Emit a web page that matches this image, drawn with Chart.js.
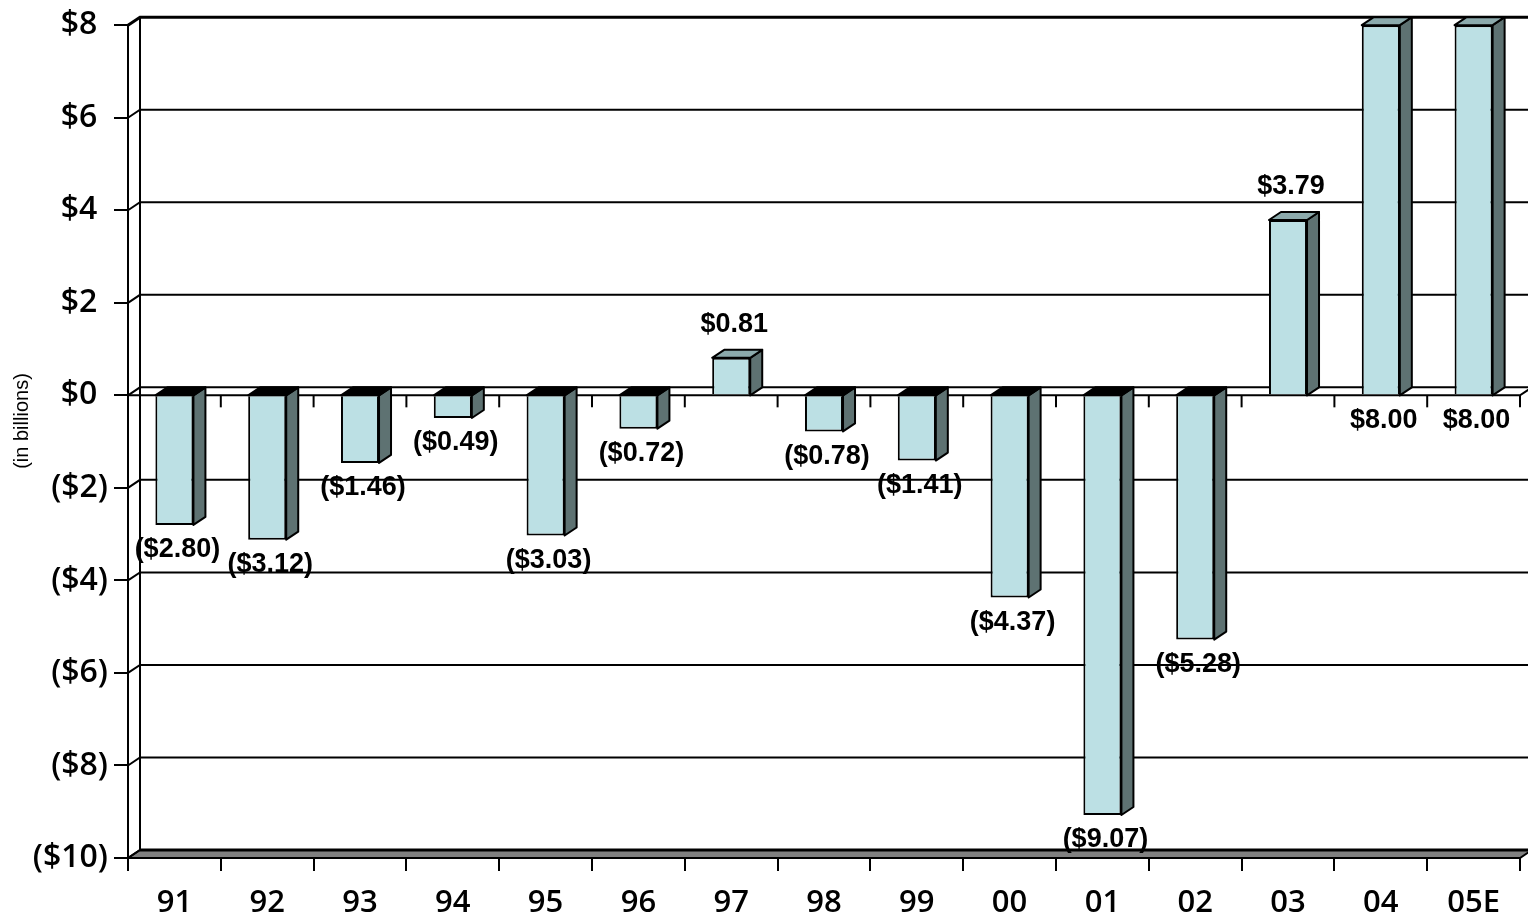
<!DOCTYPE html>
<html>
<head>
<meta charset="utf-8">
<script src="https://cdn.jsdelivr.net/npm/chart.js@4.4.0/dist/chart.umd.min.js"></script>
<style>
  html, body { margin: 0; padding: 0; background: #fff; }
  canvas { display: block; }
</style>
</head>
<body>
<canvas id="chart" width="1528" height="919"></canvas>
<script>
// values (billions of dollars)
const years = ["91", "92", "93", "94", "95", "96", "97", "98", "99", "00", "01", "02", "03", "04", "05E"];
const netIncome = [-2.80, -3.12, -1.46, -0.49, -3.03, -0.72, 0.81, -0.78, -1.41, -4.37, -9.07, -5.28, 3.79, 8.00, 8.00];
const axisMin = -10;
const axisMax = 8;
const axisStep = 2;
const axisTitle = "(in billions)";

// 3d look
const DX = 12;
const DY = -8;
const frontColor = "#bce0e4";
const sideColor = "#5e7272";
const topColor = "#8caaac";
const tickFont = "'Open Sans', 'Noto Sans', sans-serif";

function money(v) {
  const s = "$" + Math.abs(v).toFixed(2);
  return v < 0 ? "(" + s + ")" : s;
}

function poly(ctx, pts) {
  ctx.beginPath();
  ctx.moveTo(pts[0][0], pts[0][1]);
  for (let i = 1; i < pts.length; i++) ctx.lineTo(pts[i][0], pts[i][1]);
  ctx.closePath();
  ctx.fill();
  ctx.stroke();
}

const wallPlugin = {
  id: "walls",
  beforeDatasetsDraw(chart) {
    const { ctx, chartArea: a, scales: { x, y } } = chart;
    ctx.save();
    ctx.strokeStyle = "#000";
    ctx.lineJoin = "miter";

    // floor at the bottom
    const yb = y.getPixelForValue(axisMin);
    ctx.fillStyle = "#808080";
    ctx.lineWidth = 2;
    poly(ctx, [[a.left, yb], [a.right, yb], [a.right + DX, yb + DY], [a.left + DX, yb + DY]]);
    ctx.lineWidth = 3;
    ctx.beginPath();
    ctx.moveTo(a.left + DX, yb + DY);
    ctx.lineTo(a.right + DX, yb + DY);
    ctx.stroke();

    // back wall grid lines
    for (let v = axisMin + axisStep; v <= axisMax; v += axisStep) {
      const py = y.getPixelForValue(v);
      ctx.lineWidth = v === axisMax ? 3 : 2;
      ctx.beginPath();
      ctx.moveTo(a.left, py);
      ctx.lineTo(a.left + DX, py + DY);
      ctx.lineTo(a.right + DX, py + DY);
      ctx.stroke();
    }
    ctx.lineWidth = 2;
    ctx.beginPath();
    ctx.moveTo(a.left, yb);
    ctx.lineTo(a.left + DX, yb + DY);
    ctx.stroke();

    // back edge of the left wall
    ctx.beginPath();
    ctx.moveTo(a.left + DX, y.getPixelForValue(axisMax) + DY);
    ctx.lineTo(a.left + DX, yb + DY);
    ctx.stroke();

    // zero plane with its ticks
    const y0 = y.getPixelForValue(0);
    ctx.beginPath();
    ctx.moveTo(a.left, y0);
    ctx.lineTo(a.right, y0);
    ctx.lineTo(a.right + DX, y0 + DY);
    ctx.stroke();
    const step = x.getPixelForValue(1) - x.getPixelForValue(0);
    const first = x.getPixelForValue(0) - step / 2;
    for (let i = 0; i <= years.length; i++) {
      const px = first + i * step;
      ctx.beginPath();
      ctx.moveTo(px, y0);
      ctx.lineTo(px, y0 + 12);
      ctx.stroke();
    }

    // axis title
    ctx.fillStyle = "#000";
    ctx.font = "20px 'Liberation Sans', Arial, sans-serif";
    ctx.textAlign = "center";
    ctx.textBaseline = "middle";
    ctx.translate(22, 421);
    ctx.rotate(-Math.PI / 2);
    ctx.fillText(axisTitle, 0, 0);
    ctx.restore();
  }
};

const depthPlugin = {
  id: "depth",
  afterDatasetsDraw(chart) {
    const { ctx, scales: { y } } = chart;
    const y0 = y.getPixelForValue(0);
    ctx.save();
    ctx.strokeStyle = "#000";
    ctx.lineWidth = 2;
    ctx.lineJoin = "round";
    chart.getDatasetMeta(0).data.forEach((bar, i) => {
      const p = bar.getProps(["x", "y", "width"], true);
      const l = p.x - p.width / 2;
      const r = p.x + p.width / 2;
      const top = Math.min(p.y, y0);
      const bot = Math.max(p.y, y0);
      ctx.fillStyle = sideColor;
      poly(ctx, [[r, top], [r + DX, top + DY], [r + DX, bot + DY], [r, bot]]);
      ctx.fillStyle = netIncome[i] < 0 ? "#000" : topColor;
      poly(ctx, [[l, top], [l + DX, top + DY], [r + DX, top + DY], [r, top]]);
    });

    // value labels
    ctx.fillStyle = "#000";
    ctx.font = "bold 27px 'Liberation Sans', Arial, sans-serif";
    ctx.textAlign = "center";
    ctx.textBaseline = "middle";
    chart.getDatasetMeta(0).data.forEach((bar, i) => {
      const v = netIncome[i];
      const p = bar.getProps(["x", "y"], true);
      let ly;
      if (v >= axisMax) ly = y0 + 25;
      else if (v < 0) ly = p.y + 25;
      else ly = p.y + DY - 25;
      ctx.fillText(money(v), p.x + 3, ly);
    });
    ctx.restore();
  }
};

const canvas = document.getElementById("chart");
new Chart(canvas, {
  type: "bar",
  data: {
    labels: years,
    datasets: [
      {
        data: netIncome,
        backgroundColor: frontColor,
        borderColor: "#000",
        borderWidth: 2,
        categoryPercentage: 1,
        barPercentage: 0.41,
      },
    ],
  },
  options: {
    responsive: false,
    animation: false,
    devicePixelRatio: 1,
    layout: { padding: { top: 23, right: 8, left: 0, bottom: 0 } },
    plugins: {
      legend: { display: false },
      tooltip: { enabled: false },
    },
    scales: {
      x: {
        grid: { offset: true, drawOnChartArea: false, tickLength: 13, color: "#000", lineWidth: 2 },
        border: { color: "#000", width: 2 },
        ticks: {
          color: "#000",
          padding: 14,
          font: { family: tickFont, size: 31, weight: "600" },
        },
        afterFit: (scale) => { scale.height = 61; },
      },
      y: {
        min: axisMin,
        max: axisMax,
        grid: { drawOnChartArea: false, tickLength: 14, color: "#000", lineWidth: 2 },
        border: { color: "#000", width: 2 },
        ticks: {
          stepSize: axisStep,
          color: "#000",
          padding: 6,
          font: { family: tickFont, size: 32, weight: "600" },
          callback: (v) => (v < 0 ? "($" + -v + ")" : "$" + v + "\u2004"),
        },
        afterFit: (scale) => { scale.width = 128; },
      },
    },
  },
  plugins: [wallPlugin, depthPlugin],
});
</script>
</body>
</html>
